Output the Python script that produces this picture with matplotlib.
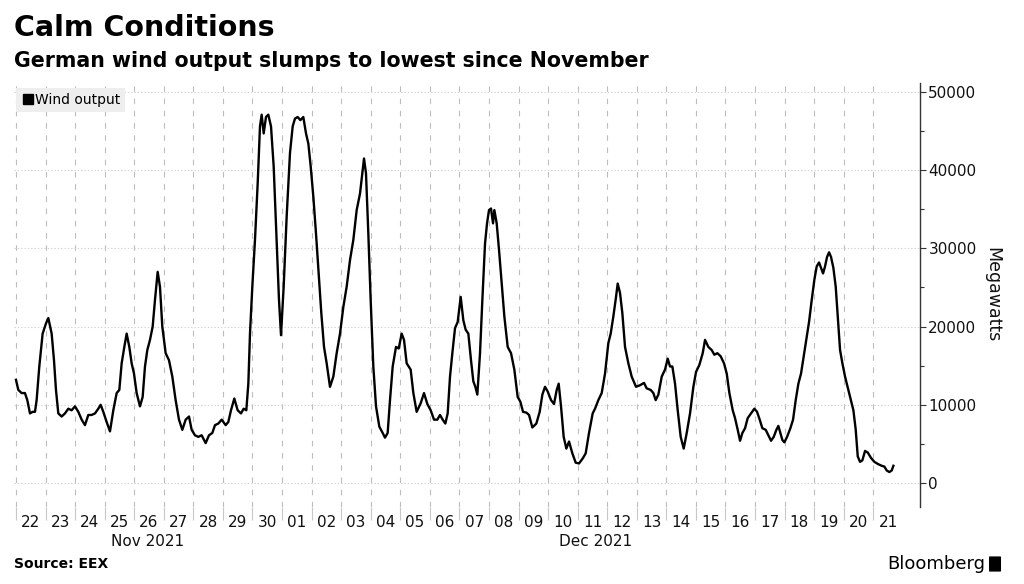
import numpy as np
import pandas as pd
import matplotlib
matplotlib.use("Agg")
import matplotlib.pyplot as plt
import matplotlib.dates as mdates
from matplotlib.lines import Line2D
from matplotlib.patches import FancyBboxPatch
from matplotlib.ticker import NullFormatter, FixedLocator, MultipleLocator

# German wind output
# day_offset = days since 2021-11-22 00:00, wind_k = thousand MW
day_offset = [
    0.000, 0.079, 0.192, 0.304, 0.383, 0.474, 0.564, 0.643, 0.699, 0.789,
    0.902, 1.015, 1.094, 1.207, 1.286, 1.353, 1.432, 1.545, 1.658, 1.770,
    1.883, 1.996, 2.109, 2.222, 2.334, 2.447, 2.560, 2.673, 2.785, 2.864,
    2.954, 3.067, 3.180, 3.293, 3.406, 3.496, 3.575, 3.665, 3.744, 3.834,
    3.913, 3.992, 4.082, 4.195, 4.285, 4.364, 4.443, 4.533, 4.624, 4.702,
    4.793,
    4.871, 4.950, 5.063, 5.176, 5.289, 5.401, 5.514, 5.627, 5.740, 5.853,
    5.943, 6.055, 6.168, 6.281, 6.416, 6.529, 6.642, 6.732, 6.845, 6.958,
    7.093, 7.183, 7.273, 7.386, 7.499, 7.612, 7.702, 7.792, 7.860, 7.916,
    7.995, 8.085, 8.176, 8.254, 8.311, 8.379, 8.457, 8.536, 8.627, 8.717,
    8.807, 8.897, 8.965, 9.055, 9.157, 9.269, 9.360, 9.438, 9.529, 9.619,
    9.720,
    9.811, 9.890, 9.969, 10.059, 10.149, 10.239, 10.329, 10.420, 10.510, 10.622,
    10.735, 10.848, 10.961, 11.073, 11.186, 11.299, 11.412, 11.525, 11.637, 11.716,
    11.773, 11.840, 11.919, 11.998, 12.088, 12.179, 12.291, 12.404, 12.483, 12.573,
    12.652, 12.743, 12.855, 12.946, 13.047, 13.126, 13.216, 13.351, 13.442, 13.554,
    13.690, 13.802, 13.915, 14.028, 14.141, 14.253, 14.344, 14.434, 14.524,
    14.603, 14.682, 14.761, 14.851, 14.942, 15.043, 15.133, 15.212, 15.302, 15.392,
    15.471, 15.539, 15.606, 15.697, 15.776, 15.866, 15.934, 16.001, 16.069, 16.137,
    16.182, 16.261, 16.340, 16.430, 16.520, 16.633, 16.746, 16.858, 16.971, 17.061,
    17.152, 17.264, 17.355, 17.467, 17.602, 17.715, 17.806, 17.896, 17.986, 18.099,
    18.200, 18.291, 18.358, 18.437, 18.527, 18.617, 18.708, 18.820, 18.933, 19.046,
    19.181, 19.272, 19.384,
    19.508, 19.587, 19.700, 19.813, 19.926, 20.038, 20.117, 20.207, 20.298, 20.354,
    20.433, 20.512, 20.602, 20.715, 20.828, 20.974, 21.109, 21.245, 21.335, 21.470,
    21.560, 21.639, 21.730, 21.843, 21.955, 22.046, 22.124, 22.203, 22.294, 22.384,
    22.485, 22.587, 22.689, 22.801, 22.914, 23.004, 23.117, 23.230, 23.309, 23.421,
    23.534, 23.624, 23.726, 23.838, 23.951, 24.042, 24.132, 24.245,
    24.323, 24.414, 24.493, 24.572, 24.662, 24.752, 24.865, 24.977, 25.068, 25.158,
    25.248, 25.361, 25.451, 25.541, 25.632, 25.722, 25.789, 25.857, 25.924, 25.992,
    26.083, 26.195, 26.286, 26.376, 26.466, 26.556, 26.647, 26.737, 26.827, 26.917,
    27.007, 27.086, 27.165, 27.233, 27.301, 27.368, 27.436, 27.504, 27.571, 27.650,
    27.729, 27.797, 27.876, 27.955, 28.045, 28.158, 28.248, 28.327, 28.406, 28.474,
    28.552, 28.631, 28.721, 28.812, 28.924, 29.037, 29.172, 29.285, 29.375, 29.454,
    29.544, 29.623, 29.680,
]

wind_k = [
    13.2, 11.9, 11.5, 11.5, 10.6, 8.9, 9.1, 9.1, 10.6, 14.9,
    19.1, 20.4, 21.1, 19.1, 15.7, 11.9, 8.9, 8.5, 8.9, 9.5,
    9.3, 9.8, 9.1, 8.1, 7.4, 8.7, 8.7, 8.9, 9.5, 10.0,
    9.1, 7.8, 6.6, 9.3, 11.5, 11.9, 15.3, 17.4, 19.1, 17.4,
    15.3, 14.0, 11.5, 9.8, 11.0, 14.9, 17.0, 18.3, 20.0, 23.4,
    27.0,
    25.1, 20.0, 16.6, 15.7, 13.6, 10.6, 8.1, 6.8, 8.1, 8.5,
    6.8, 6.1, 5.9, 6.1, 5.1, 6.1, 6.4, 7.4, 7.6, 8.1,
    7.4, 7.8, 9.3, 10.8, 9.3, 8.9, 9.5, 9.3, 12.7, 19.1,
    25.1, 31.1, 38.3, 45.6, 47.1, 44.7, 46.8, 47.1, 45.6, 40.5,
    31.9, 23.4, 18.9, 25.1, 34.1, 42.2, 45.6, 46.6, 46.8, 46.4,
    46.8,
    44.7, 43.4, 40.5, 36.6, 31.9, 26.8, 21.7, 17.4, 15.3, 12.3,
    13.6, 16.6, 19.1, 22.5, 25.1, 28.5, 31.1, 34.9, 37.0, 39.6,
    41.5, 39.6, 31.9, 23.4, 14.9, 9.8, 7.2, 6.4, 5.8, 6.4,
    10.6, 14.9, 17.4, 17.2, 19.1, 18.3, 15.3, 14.5, 11.5, 9.1,
    10.2, 11.5, 10.1, 9.3, 8.1, 8.1, 8.7, 8.1, 7.6,
    8.9, 13.6, 16.6, 19.8, 20.6, 23.8, 20.8, 19.6, 19.1, 15.7,
    13.0, 12.3, 11.3, 16.6, 23.4, 30.6, 33.2, 34.9, 35.1, 33.2,
    34.9, 33.2, 29.8, 25.5, 21.3, 17.4, 16.6, 14.5, 11.0, 10.4,
    9.1, 9.0, 8.7, 7.1, 7.6, 9.1, 11.3, 12.3, 11.7, 10.6,
    10.1, 11.9, 12.7, 9.8, 5.9, 4.4, 5.3, 3.8, 2.6, 2.5,
    3.2, 3.8, 6.4,
    8.9, 9.5, 10.6, 11.5, 14.0, 17.9, 19.1, 21.3, 23.8, 25.5,
    24.3, 21.7, 17.4, 15.3, 13.6, 12.3, 12.5, 12.8, 12.1, 11.9,
    11.5, 10.6, 11.3, 13.6, 14.5, 15.9, 14.9, 14.9, 12.7, 9.3,
    5.9, 4.4, 6.4, 8.9, 12.3, 14.2, 15.1, 16.6, 18.3, 17.4,
    17.0, 16.4, 16.6, 16.2, 15.3, 14.0, 11.5, 9.3,
    8.3, 6.8, 5.4, 6.4, 7.0, 8.3, 8.9, 9.5, 9.1, 8.1,
    7.0, 6.8, 6.1, 5.4, 5.9, 6.8, 7.3, 6.4, 5.5, 5.2,
    5.9, 7.0, 8.1, 10.6, 12.7, 14.0, 16.2, 18.3, 20.6, 23.4,
    26.0, 27.7, 28.2, 27.5, 26.8, 27.7, 28.9, 29.5, 28.9, 27.5,
    25.1, 21.3, 17.0, 15.3, 13.6, 11.9, 10.6, 9.3, 6.8, 3.4,
    2.7, 2.9, 4.1, 3.9, 3.2, 2.7, 2.4, 2.2, 2.1, 1.6,
    1.4, 1.6, 2.2,
]

y_ticks = [0, 10000, 20000, 30000, 40000, 50000]
first_day = "2021-11-22"
last_day = "2021-12-21"

start = pd.Timestamp(first_day)
times = start + pd.to_timedelta(np.array(day_offset), unit="D")
wind_mw = np.array(wind_k) * 1000

days = pd.date_range(first_day, last_day, freq="D")
noons = days + pd.Timedelta(hours=12)

W, H = 1024, 584
fig = plt.figure(figsize=(W / 100, H / 100), dpi=100)
ax = fig.add_axes([14 / W, 1 - 507 / H, 906 / W, 424 / H])

ax.plot(times, wind_mw, color="black", lw=1.7, solid_joinstyle="round")

ax.set_xlim(start - pd.Timedelta(hours=1.6), start + pd.Timedelta(days=30.58))
ax.set_ylim(-3070, 51150)

# y axis on the right
ax.yaxis.tick_right()
ax.yaxis.set_label_position("right")
ax.set_yticks(y_ticks)
ax.yaxis.set_minor_locator(MultipleLocator(5000))
ax.set_yticklabels([str(v) for v in y_ticks])
ax.tick_params(axis="y", which="major", length=4, width=0.8, color="#333333",
               labelsize=11, pad=2, labelcolor="#111111")
ax.tick_params(axis="y", which="minor", length=3, width=0.8, color="#333333")
ax.set_ylabel("Megawatts", rotation=270, fontsize=12.5, labelpad=18, color="#111111")

# x axis: gridlines at midnight, labels at noon
ax.xaxis.set_major_locator(FixedLocator(mdates.date2num(days)))
ax.xaxis.set_major_formatter(NullFormatter())
ax.xaxis.set_minor_locator(FixedLocator(mdates.date2num(noons)))
ax.xaxis.set_minor_formatter(mdates.DateFormatter("%d"))
ax.tick_params(axis="x", which="major", length=9, width=0.8, color="#c8c8c8")
ax.tick_params(axis="x", which="minor", length=0, labelsize=11, pad=6,
               labelcolor="#111111")

ax.grid(axis="x", which="major", color="#bdbdbd", linestyle=(0, (5, 6)), lw=0.8)
ax.grid(axis="y", which="major", color="#d2d2d2", linestyle=(0, (1.2, 1.8)), lw=0.8)
ax.set_axisbelow(True)

for side in ["top", "left", "bottom"]:
    ax.spines[side].set_visible(False)
ax.spines["right"].set_color("#333333")
ax.spines["right"].set_linewidth(1.0)

# legend
handle = Line2D([], [], marker="s", color="black", linestyle="None", markersize=7)
leg = ax.legend([handle], ["Wind output"], loc="upper left", fontsize=10,
                frameon=True, fancybox=False, facecolor="#eeeeee", edgecolor="none",
                framealpha=1, handletextpad=0.0, handlelength=1.0,
                borderpad=0.35, borderaxespad=0.0,
                bbox_to_anchor=(2 / 906, 1 - 5 / 424))

# titles
fig.text(14 / W, 1 - 28 / H, "Calm Conditions", fontsize=20.5, fontweight="bold",
         va="center", ha="left", color="black")
fig.text(14 / W, 1 - 61 / H, "German wind output slumps to lowest since November",
         fontsize=14.8, fontweight="bold", va="center", ha="left", color="black")

# month labels
fig.text(148 / W, 1 - 541 / H, "Nov 2021", fontsize=11, ha="center", va="center",
         color="#111111")
fig.text(596 / W, 1 - 541 / H, "Dec 2021", fontsize=11, ha="center", va="center",
         color="#111111")

# footer
fig.text(14 / W, 1 - 564 / H, "Source: EEX", fontsize=10, fontweight="bold",
         va="center", ha="left", color="black")
fig.text(985 / W, 1 - 564 / H, "Bloomberg", fontsize=13, va="center", ha="right",
         color="black")
fig.patches.append(FancyBboxPatch((990 / W, 1 - 571 / H), 10 / W, 14 / H,
                                  boxstyle="round,pad=0.001", transform=fig.transFigure,
                                  facecolor="black", edgecolor="none"))

fig.savefig("out.png", dpi=100)
